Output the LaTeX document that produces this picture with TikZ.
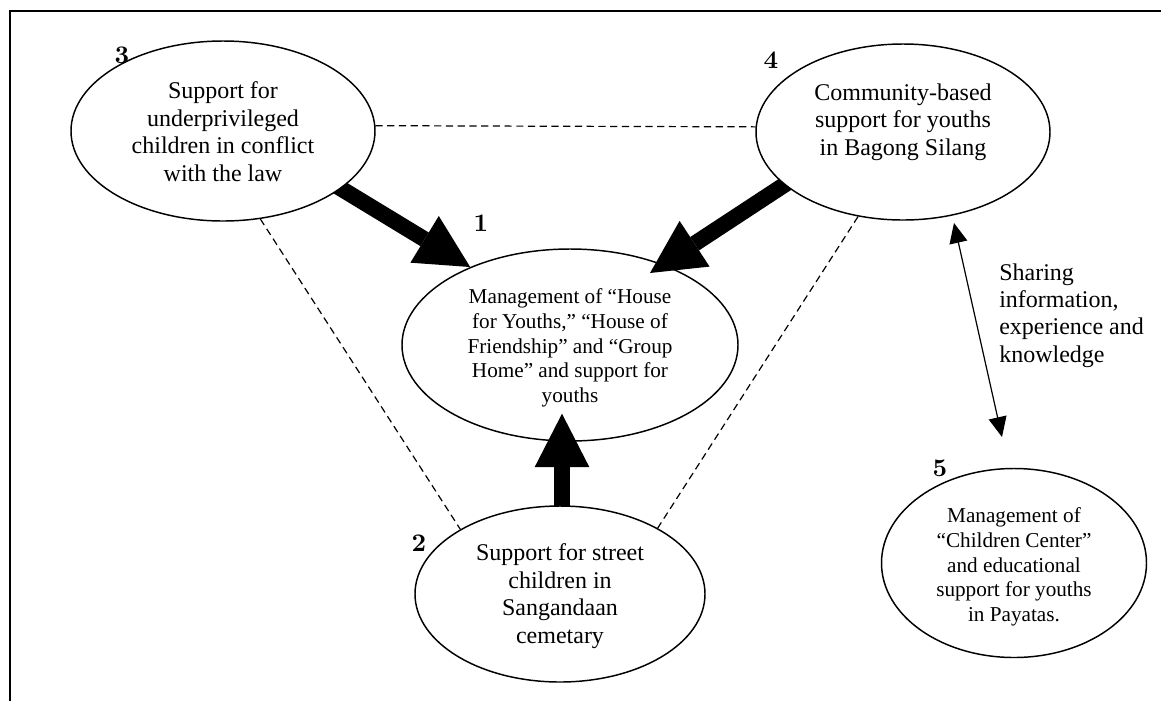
\documentclass[tikz,border=0pt]{standalone}
\usepackage{fontspec}
\setmainfont{Liberation Serif}
\newfontfamily\lmb{lmroman10-bold.otf}
\usetikzlibrary{shapes.geometric,arrows.meta,calc}
\pgfdeclarelayer{paper}
\pgfdeclarelayer{back}
\pgfsetlayers{paper,back,main}
\begin{document}
\begin{tikzpicture}[x=0.75pt,y=-0.75pt,
  ell/.style={draw, ellipse, line width=1.1pt, inner sep=0pt},
  big/.style={font=\fontsize{18}{20.6}\selectfont, align=center, inner sep=0pt},
  small/.style={font=\fontsize{15.9}{18.45}\selectfont, align=center, inner sep=0pt},
  num/.style={font=\lmb\fontsize{19}{19}\selectfont, inner sep=0pt},
  dline/.style={dash pattern=on 5.4pt off 3.4pt, line width=0.9pt},
  fat/.style={line width=12pt, shorten <=-10pt, -{Triangle[width=41pt,length=40pt,line width=0pt]}},
  twoway/.style={line width=0.9pt, {Triangle[width=13.5pt,length=15pt]}-{Triangle[width=13.5pt,length=15pt]}}
]
\useasboundingbox (0,0) rectangle (1161,701);
\begin{pgfonlayer}{paper}
\fill[white] (0,0) rectangle (1161,701);
\end{pgfonlayer}
\draw[line width=2pt] (10,701) -- (10,11) -- (1161,11);

% ellipses
\node[ell, fill=white, minimum width=228pt, minimum height=135pt] (e3) at (223,131) {};
\node[ell, fill=white, minimum width=220.5pt, minimum height=132pt] (e4) at (903,132) {};
\node[ell, minimum width=252pt, minimum height=144pt] (e1) at (570,345) {};
\node[ell, fill=white, minimum width=217.5pt, minimum height=132pt] (e2) at (560,594) {};
\node[ell, fill=white, minimum width=198.75pt, minimum height=141.75pt] (e5) at (1014,563) {};

% texts
\node[big] (t3) at (223,131.5) {Support for\\underprivileged\\children in conflict\\with the law};
\node[big] (t4) at (903,122) {Community-based\\support for youths\\in Bagong Silang};
\node[small] (t1) at (570,348) {Management of “House\\for Youths,” “House of\\Friendship” and “Group\\Home” and support for\\youths};
\node[big] (t2) at (560,596) {Support for street\\children in\\Sangandaan\\cemetary};
\node[small] (t5) at (1014,567) {Management of\\“Children Center”\\and educational\\support for youths\\in Payatas.};
\node[big, align=left, anchor=west] (share) at (999,315.5) {Sharing\\information,\\experience and\\knowledge};

% numbers
\node[num] (n3) at (122,55) {3};
\node[num] (n4) at (771,60) {4};
\node[num] (n1) at (481,223) {1};
\node[num] (n2) at (419,543) {2};
\node[num] (n5) at (940,468) {5};

% dashed links
\draw[dline] (e3.2) -- (e4.178);
\draw[dline] (e3.-67) -- (e2.147);
\draw[dline] (e4.242) -- (e2.34);

% thick arrows
\begin{pgfonlayer}{back}
\draw[fat] (e3.-26) -- (e1.142);
\draw[fat] (e4.204) -- ($(e1.center)+(80,-72)$);
\draw[fat] ($(e2.north)+(2,0)$) -- ($(e1.south)+(-8,-28)$);
\end{pgfonlayer}

% sharing arrow
\coordinate (sa) at ($(e4.center)+(51,91)$);
\coordinate (sb) at ($(e5.center)+(-12,-126)$);
\draw[twoway] (sa) -- (sb);
\end{tikzpicture}
\end{document}
